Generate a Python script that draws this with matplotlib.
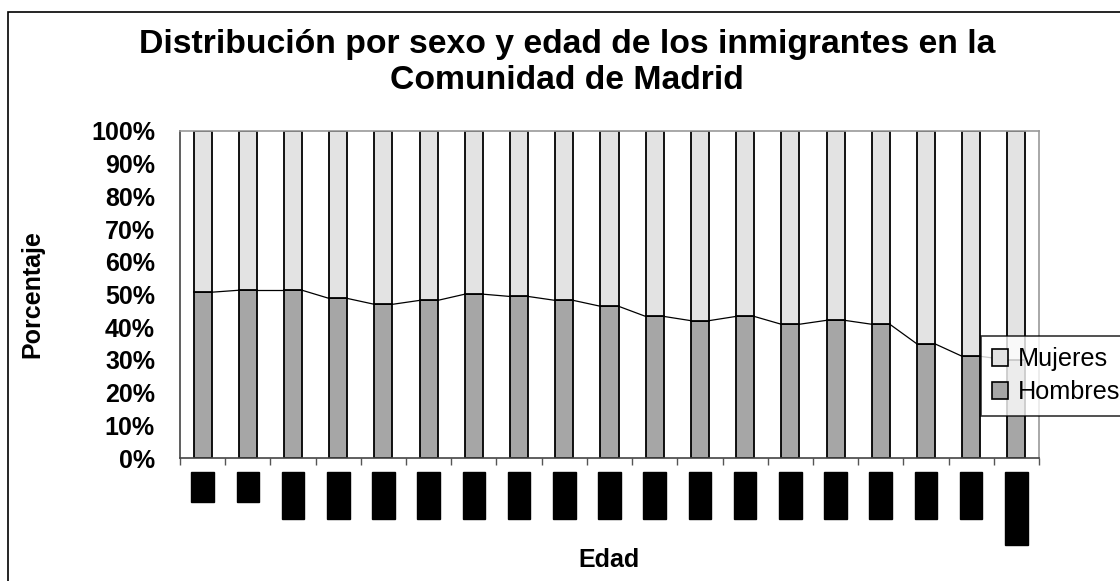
import numpy as np
import matplotlib
matplotlib.use("Agg")
import matplotlib.pyplot as plt
from matplotlib.patches import Rectangle, Patch
from matplotlib.ticker import FuncFormatter

plt.rcParams['font.family'] = ['Liberation Sans', 'DejaVu Sans']

# ---- data ----
edades = ["0-4", "5-9", "10-14", "15-19", "20-24", "25-29", "30-34", "35-39",
          "40-44", "45-49", "50-54", "55-59", "60-64", "65-69", "70-74",
          "75-79", "80-84", "85-89", "90 y más"]
hombres = [50.7, 51.3, 51.3, 48.8, 47.0, 48.2, 50.1, 49.4, 48.2, 46.4,
           43.3, 42.0, 43.3, 40.9, 42.1, 40.9, 34.9, 31.1, 30.0]
mujeres = [100 - h for h in hombres]
y_ticks = [0, 10, 20, 30, 40, 50, 60, 70, 80, 90, 100]

titulo1 = "Distribución por sexo y edad de los inmigrantes en la"
titulo2 = "Comunidad de Madrid"

W, H = 1120, 581
fig = plt.figure(figsize=(W / 100, H / 100), dpi=100)
fig.patch.set_facecolor("white")

# chart frame (extends beyond the image on right/bottom)
fig.patches.append(Rectangle((8 / W, -0.2), 1.5, 1 - 12 / H + 0.2,
                             transform=fig.transFigure, fill=False,
                             edgecolor="black", linewidth=1.2))

left, right, top, bottom = 180, 1039, 131, 458
ax = fig.add_axes([left / W, 1 - bottom / H, (right - left) / W, (bottom - top) / H])

x = np.arange(len(edades))
w = 0.4
c_h = "#a6a6a6"
c_m = "#e3e3e3"
ax.bar(x, hombres, width=w, color=c_h, edgecolor="black", linewidth=1.3, zorder=2)
ax.bar(x, mujeres, width=w, bottom=hombres, color=c_m, edgecolor="black",
       linewidth=1.3, zorder=2)

# series lines connecting the tops of Hombres
for i in range(len(x) - 1):
    ax.plot([x[i] + w / 2, x[i + 1] - w / 2], [hombres[i], hombres[i + 1]],
            color="black", linewidth=0.9, zorder=3)

ax.set_xlim(-0.5, len(x) - 0.5)
ax.set_ylim(0, 100)
ax.set_yticks(y_ticks)
ax.yaxis.set_major_formatter(FuncFormatter(lambda v, p: f"{int(v)}%"))
ax.tick_params(axis="y", length=0, pad=18, labelsize=18)
for lab in ax.get_yticklabels():
    lab.set_fontweight("bold")

ax.set_xticks(x)
ax.set_xticks(np.arange(-0.5, len(x), 1), minor=True)
ax.tick_params(axis="x", which="major", length=0, pad=13)
ax.tick_params(axis="x", which="minor", length=5, color="#555555", width=1)
ax.set_xticklabels(edades, rotation=90, fontsize=11, fontweight="bold",
                   color="black", va="top", ha="center")
for lab in ax.get_xticklabels():
    lab.set_bbox(dict(boxstyle="square,pad=0.28", facecolor="black",
                      edgecolor="black"))

for s in ["top", "right"]:
    ax.spines[s].set_color("#9a9a9a")
    ax.spines[s].set_linewidth(1.2)
for s in ["left", "bottom"]:
    ax.spines[s].set_color("#444444")
    ax.spines[s].set_linewidth(1.2)

# titles and axis labels
tx = 567 / W
fig.text(tx, 1 - 53 / H, titulo1, ha="center", va="baseline",
         fontsize=24.3, fontweight="bold")
fig.text(tx, 1 - 89 / H, titulo2, ha="center", va="baseline",
         fontsize=24.3, fontweight="bold")
fig.text(32 / W, 1 - 294.5 / H, "Porcentaje", rotation=90, ha="center",
         va="center", fontsize=18, fontweight="bold")
fig.text(609 / W, 1 - 560 / H, "Edad", ha="center", va="center",
         fontsize=18, fontweight="bold")

handles = [Patch(facecolor=c_m, edgecolor="black", linewidth=1.2),
           Patch(facecolor=c_h, edgecolor="black", linewidth=1.2)]
leg = fig.legend(handles, ["Mujeres", "Hombres"], loc="upper left",
                 bbox_to_anchor=(981 / W, 1 - 336 / H), frameon=True,
                 fancybox=False, fontsize=18.2, handlelength=0.62,
                 handleheight=0.62, handletextpad=0.4, borderpad=0.45,
                 labelspacing=0.35, borderaxespad=0)
leg.get_frame().set_edgecolor("black")
leg.get_frame().set_linewidth(1.2)

fig.savefig("out.png", dpi=100)
